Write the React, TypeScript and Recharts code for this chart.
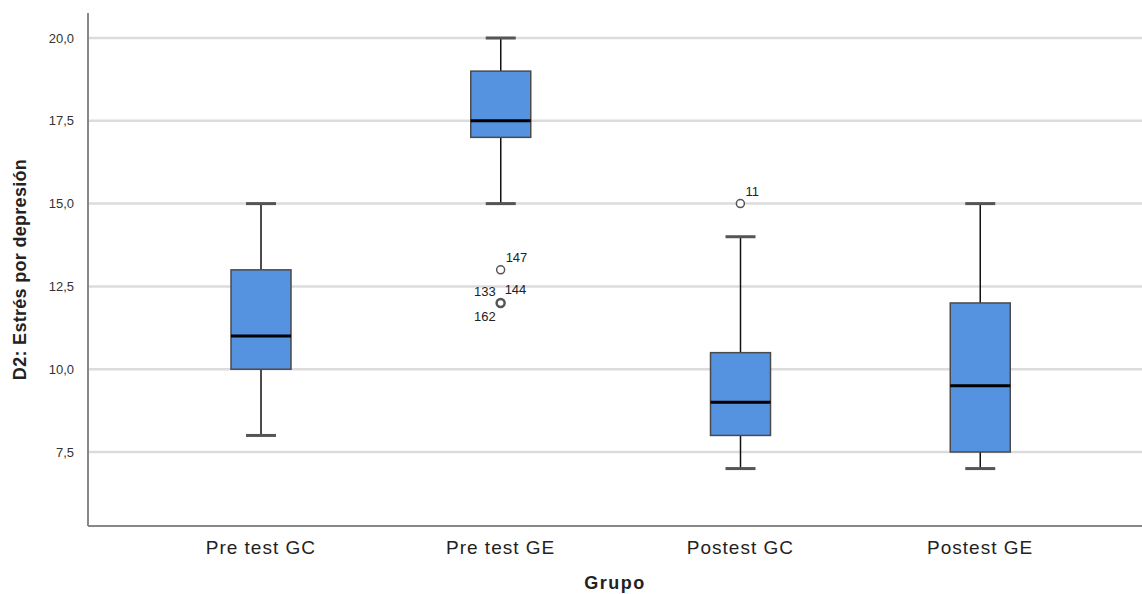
import { ComposedChart, Bar, Line, XAxis, YAxis, CartesianGrid } from 'recharts';

const groups = ['Pre test GC', 'Pre test GE', 'Postest GC', 'Postest GE'];
const mins = [8, 15, 7, 7];
const q1s = [10, 17, 8, 7.5];
const medians = [11, 17.5, 9, 9.5];
const q3s = [13, 19, 10.5, 12];
const maxs = [15, 20, 14, 15];
// outliers: value + case labels per group (null = none)
const outA = [null, 13, 15, null];
const outALabels = [[], ['147'], ['11'], []];
const outB = [null, 12, null, null];
const outBLabels = [[], ['133', '144', '162'], [], []];
const yTicks = [7.5, 10, 12.5, 15, 17.5, 20];

const data = groups.map((g, i) => ({
  group: g,
  range: [mins[i], maxs[i]],
  min: mins[i],
  q1: q1s[i],
  median: medians[i],
  q3: q3s[i],
  max: maxs[i],
  outA: outA[i],
  outALabels: outALabels[i],
  outB: outB[i],
  outBLabels: outBLabels[i],
}));

const FONT = 'Liberation Sans, Arial, sans-serif';

function BoxShape(props: any) {
  const { x, y, width, height, payload } = props;
  const { min, max, q1, median, q3 } = payload;
  const py = (v: number) => y + ((max - v) / (max - min)) * height;
  const cx = x + width / 2;
  const capW = 30;
  return (
    <g>
      <line x1={cx} x2={cx} y1={py(max)} y2={py(q3)} stroke="#111" strokeWidth={1.5} />
      <line x1={cx} x2={cx} y1={py(q1)} y2={py(min)} stroke="#111" strokeWidth={1.5} />
      <line x1={cx - capW / 2} x2={cx + capW / 2} y1={py(max)} y2={py(max)} stroke="#555" strokeWidth={3} />
      <line x1={cx - capW / 2} x2={cx + capW / 2} y1={py(min)} y2={py(min)} stroke="#555" strokeWidth={3} />
      <rect x={x} y={py(q3)} width={width} height={py(q1) - py(q3)} fill="#5592e0" stroke="#4a4a4a" strokeWidth={1.5} />
      <line x1={x} x2={x + width} y1={py(median)} y2={py(median)} stroke="#000" strokeWidth={3} />
    </g>
  );
}

function OutlierDot(props: any) {
  const { cx, cy, payload, dataKey } = props;
  if (cx == null || cy == null || payload[dataKey] == null) return <g key={`e-${dataKey}-${props.index}`} />;
  const labels: string[] = dataKey === 'outA' ? payload.outALabels : payload.outBLabels;
  const multi = labels.length > 1;
  const ts = { fontSize: 13, fill: '#222', fontFamily: FONT };
  return (
    <g key={`o-${dataKey}-${props.index}`}>
      <circle cx={cx} cy={cy} r={4} fill="#fff" stroke="#555" strokeWidth={multi ? 2.5 : 1.5} />
      {labels.length === 1 && (
        <text x={cx + 5} y={cy - 8} {...ts}>{labels[0]}</text>
      )}
      {multi && (
        <>
          <text x={cx - 5} y={cy - 7} textAnchor="end" {...ts}>{labels[0]}</text>
          <text x={cx + 4} y={cy - 9} {...ts}>{labels[1]}</text>
          <text x={cx - 5} y={cy + 18} textAnchor="end" {...ts}>{labels[2]}</text>
        </>
      )}
    </g>
  );
}

const YLabel = (props: any) => {
  const { viewBox } = props;
  const cy = viewBox.y + viewBox.height / 2;
  return (
    <text
      x={21}
      y={cy}
      transform={`rotate(-90, 21, ${cy})`}
      textAnchor="middle"
      dominantBaseline="middle"
      fontSize={18}
      fontWeight="bold"
      fill="#222"
      fontFamily={FONT}
      letterSpacing={0.3}
    >
      D2: Estrés por depresión
    </text>
  );
};

export default function App() {
  return (
    <div style={{ position: 'absolute', left: 0, top: 0, background: '#fff' }}>
      <ComposedChart
        width={1142}
        height={594}
        data={data}
        margin={{ top: 13, right: 0, bottom: 0, left: 0 }}
      >
        <CartesianGrid vertical={false} horizontalValues={yTicks} stroke="#dcdcdc" strokeWidth={2.5} />
        <XAxis
          dataKey="group"
          height={68}
          padding={{ left: 53, right: 42 }}
          tickLine={false}
          tickMargin={9}
          stroke="#888"
          strokeWidth={2}
          tick={{ fontSize: 19, fill: '#222', fontFamily: FONT, letterSpacing: 1 }}
          label={{ value: 'Grupo', position: 'insideBottom', offset: 5, fontSize: 18, fontWeight: 'bold', fill: '#222', fontFamily: FONT, letterSpacing: 1.5 }}
        />
        <YAxis
          type="number"
          width={88}
          domain={[5.266, 20.755]}
          ticks={yTicks}
          allowDataOverflow
          tickLine={false}
          tickMargin={8}
          stroke="#888"
          strokeWidth={2}
          tick={{ fontSize: 13, fill: '#333', fontFamily: FONT }}
          tickFormatter={(v: number) => v.toFixed(1).replace('.', ',')}
          label={<YLabel />}
        />
        <Bar dataKey="range" barSize={60} shape={<BoxShape />} isAnimationActive={false} />
        <Line dataKey="outA" stroke="none" dot={OutlierDot} activeDot={false} isAnimationActive={false} />
        <Line dataKey="outB" stroke="none" dot={OutlierDot} activeDot={false} isAnimationActive={false} />
      </ComposedChart>
    </div>
  );
}
